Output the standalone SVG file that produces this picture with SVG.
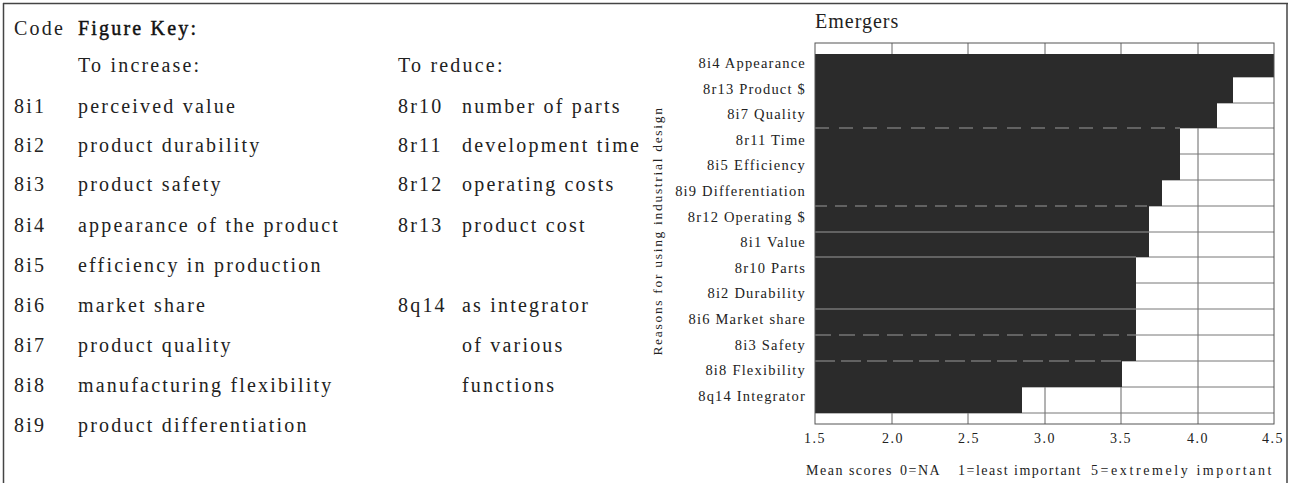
<svg xmlns="http://www.w3.org/2000/svg" width="1291" height="483" viewBox="0 0 1291 483">
  <style>
    .key { font-family: "Liberation Serif", serif; font-size: 20px; letter-spacing: 2.2px; fill: #222; }
    .head { font-family: "Liberation Serif", serif; font-size: 20px; letter-spacing: 2.2px; fill: #111; stroke: #111; stroke-width: 0.45px; }
    .lbl { font-family: "Liberation Serif", serif; font-size: 14.5px; letter-spacing: 1.2px; fill: #222; text-anchor: end; }
    .tick { font-family: "Liberation Serif", serif; font-size: 14px; letter-spacing: 1.5px; fill: #222; text-anchor: middle; }
    .cap { font-family: "Liberation Serif", serif; font-size: 14px; letter-spacing: 1.5px; fill: #222; }
    .title { font-family: "Liberation Serif", serif; font-size: 20px; letter-spacing: 1px; fill: #222; }
    .frame { fill: none; stroke: #444; stroke-width: 1.5; }
    .grid { stroke: #666; stroke-width: 1; }
    .row { stroke: #777; stroke-width: 1; }
    .bar { fill: #2b2b2b; }
    .seam { stroke: #9a9a9a; stroke-width: 1; }
  </style>

  <!-- outer frame -->
  <g id="border">
    <line x1="3" y1="3.5" x2="1288" y2="3.5" class="frame"/>
    <line x1="3.5" y1="3" x2="3.5" y2="483" class="frame"/>
    <line x1="1287" y1="3" x2="1287" y2="483" class="frame"/>
  </g>

  <!-- figure key, left column -->
  <g id="key-increase">
    <text x="14" y="35" class="key">Code</text>
    <text x="78" y="35" class="head">Figure Key:</text>
    <text x="78" y="72" class="key">To increase:</text>
    <text x="14" y="113" class="key">8i1</text><text x="78" y="113" class="key">perceived value</text>
    <text x="14" y="152" class="key">8i2</text><text x="78" y="152" class="key">product durability</text>
    <text x="14" y="191" class="key">8i3</text><text x="78" y="191" class="key">product safety</text>
    <text x="14" y="232" class="key">8i4</text><text x="78" y="232" class="key">appearance of the product</text>
    <text x="14" y="272" class="key">8i5</text><text x="78" y="272" class="key">efficiency in production</text>
    <text x="14" y="312" class="key">8i6</text><text x="78" y="312" class="key">market share</text>
    <text x="14" y="352" class="key">8i7</text><text x="78" y="352" class="key">product quality</text>
    <text x="14" y="392" class="key">8i8</text><text x="78" y="392" class="key">manufacturing flexibility</text>
    <text x="14" y="432" class="key">8i9</text><text x="78" y="432" class="key">product differentiation</text>
  </g>

  <!-- figure key, right column -->
  <g id="key-reduce">
    <text x="398" y="72" class="key">To reduce:</text>
    <text x="398" y="113" class="key">8r10</text><text x="462" y="113" class="key">number of parts</text>
    <text x="398" y="152" class="key">8r11</text><text x="462" y="152" class="key">development time</text>
    <text x="398" y="191" class="key">8r12</text><text x="462" y="191" class="key">operating costs</text>
    <text x="398" y="232" class="key">8r13</text><text x="462" y="232" class="key">product cost</text>
    <text x="398" y="312" class="key">8q14</text><text x="462" y="312" class="key">as integrator</text>
    <text x="462" y="352" class="key">of various</text>
    <text x="462" y="392" class="key">functions</text>
  </g>

  <!-- bar chart -->
  <g id="chart">
    <text x="815" y="28" class="title">Emergers</text>
    <text transform="translate(662,231) rotate(-90)" class="cap" style="font-size:13.5px;letter-spacing:1.7px" text-anchor="middle">Reasons for using industrial design</text>

    <!-- vertical grid -->
    <g id="grid">
      <line x1="892" y1="43" x2="892" y2="424" class="grid"/>
      <line x1="968" y1="43" x2="968" y2="424" class="grid"/>
      <line x1="1045" y1="43" x2="1045" y2="424" class="grid"/>
      <line x1="1121" y1="43" x2="1121" y2="424" class="grid"/>
      <line x1="1198" y1="43" x2="1198" y2="424" class="grid"/>
    </g>

    <!-- row separators -->
    <g id="rows">
      <line x1="815" y1="77" x2="1274" y2="77" class="row"/>
      <line x1="815" y1="103" x2="1274" y2="103" class="row"/>
      <line x1="815" y1="128" x2="1274" y2="128" class="row"/>
      <line x1="815" y1="154" x2="1274" y2="154" class="row"/>
      <line x1="815" y1="180" x2="1274" y2="180" class="row"/>
      <line x1="815" y1="206" x2="1274" y2="206" class="row"/>
      <line x1="815" y1="232" x2="1274" y2="232" class="row"/>
      <line x1="815" y1="257" x2="1274" y2="257" class="row"/>
      <line x1="815" y1="283" x2="1274" y2="283" class="row"/>
      <line x1="815" y1="309" x2="1274" y2="309" class="row"/>
      <line x1="815" y1="335" x2="1274" y2="335" class="row"/>
      <line x1="815" y1="361" x2="1274" y2="361" class="row"/>
      <line x1="815" y1="387" x2="1274" y2="387" class="row"/>
      <line x1="815" y1="413" x2="1274" y2="413" class="row"/>
    </g>

    <!-- bars: mean scores on a 1.5 to 4.5 scale -->
    <g id="bars">
      <rect x="815" y="54" width="459" height="23" class="bar"/>
      <rect x="815" y="77" width="418" height="26" class="bar"/>
      <rect x="815" y="103" width="402" height="25" class="bar"/>
      <rect x="815" y="128" width="365" height="26" class="bar"/>
      <rect x="815" y="154" width="365" height="26" class="bar"/>
      <rect x="815" y="180" width="347" height="26" class="bar"/>
      <rect x="815" y="206" width="334" height="26" class="bar"/>
      <rect x="815" y="232" width="334" height="25" class="bar"/>
      <rect x="815" y="257" width="321" height="26" class="bar"/>
      <rect x="815" y="283" width="321" height="26" class="bar"/>
      <rect x="815" y="309" width="321" height="26" class="bar"/>
      <rect x="815" y="335" width="321" height="26" class="bar"/>
      <rect x="815" y="361" width="307" height="26" class="bar"/>
      <rect x="815" y="387" width="207" height="26" class="bar"/>
    </g>

    <!-- faint seams between stacked bars -->
    <g id="seams">
      <line x1="815" y1="128" x2="1180" y2="128" class="seam" stroke-dasharray="14 10"/>
      <line x1="815" y1="206" x2="1149" y2="206" class="seam" stroke-dasharray="12 8"/>
      <line x1="815" y1="232" x2="1149" y2="232" class="seam"/>
      <line x1="815" y1="257" x2="1136" y2="257" class="seam"/>
      <line x1="815" y1="309" x2="1136" y2="309" class="seam"/>
      <line x1="815" y1="335" x2="1136" y2="335" class="seam" stroke-dasharray="16 8"/>
      <line x1="815" y1="361" x2="1122" y2="361" class="seam" stroke-dasharray="20 6"/>
    </g>

    <!-- plot frame -->
    <rect x="815" y="43" width="459" height="381" fill="none" stroke="#555" stroke-width="1"/>

    <!-- category labels -->
    <g id="labels">
      <text x="806" y="68" class="lbl">8i4 Appearance</text>
      <text x="806" y="94" class="lbl">8r13 Product $</text>
      <text x="806" y="119" class="lbl">8i7 Quality</text>
      <text x="806" y="145" class="lbl">8r11 Time</text>
      <text x="806" y="170" class="lbl">8i5 Efficiency</text>
      <text x="806" y="196" class="lbl">8i9 Differentiation</text>
      <text x="806" y="222" class="lbl">8r12 Operating $</text>
      <text x="806" y="247" class="lbl">8i1 Value</text>
      <text x="806" y="273" class="lbl">8r10 Parts</text>
      <text x="806" y="298" class="lbl">8i2 Durability</text>
      <text x="806" y="324" class="lbl">8i6 Market share</text>
      <text x="806" y="350" class="lbl">8i3 Safety</text>
      <text x="806" y="375" class="lbl">8i8 Flexibility</text>
      <text x="806" y="401" class="lbl">8q14 Integrator</text>
    </g>

    <!-- axis ticks -->
    <g id="axis">
      <text x="815" y="443" class="tick">1.5</text>
      <text x="893" y="443" class="tick">2.0</text>
      <text x="969" y="443" class="tick">2.5</text>
      <text x="1045" y="443" class="tick">3.0</text>
      <text x="1121" y="443" class="tick">3.5</text>
      <text x="1198" y="443" class="tick">4.0</text>
      <text x="1273" y="443" class="tick">4.5</text>
    </g>

    <g id="caption">
      <text x="806" y="475" class="cap">Mean scores</text>
      <text x="900" y="475" class="cap">0=NA</text>
      <text x="958" y="475" class="cap">1=least important</text>
      <text x="1091" y="475" class="cap" textLength="182" lengthAdjust="spacing">5=extremely important</text>
    </g>
  </g>
</svg>
